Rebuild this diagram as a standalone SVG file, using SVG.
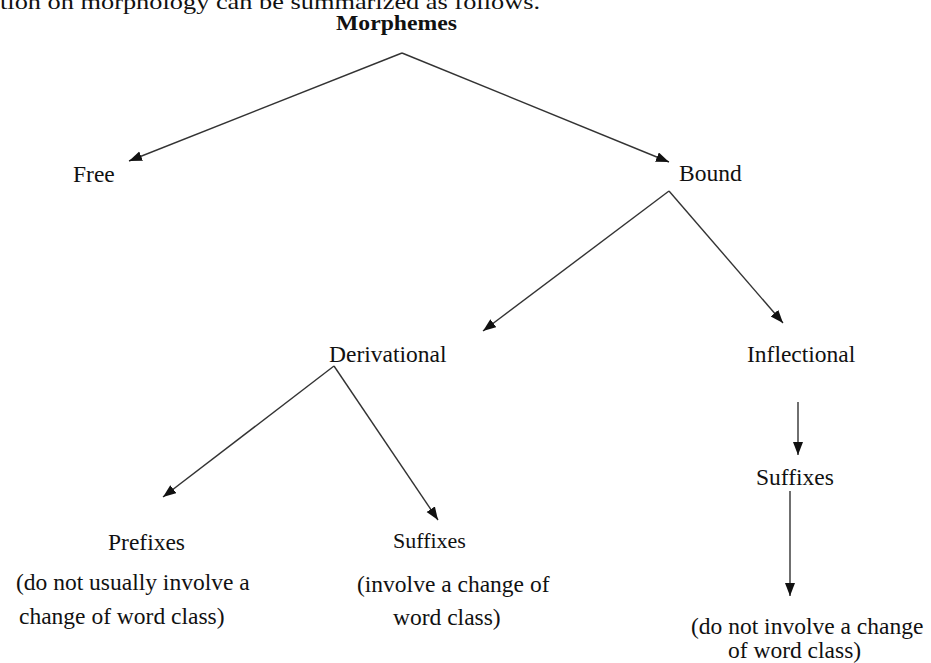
<svg xmlns="http://www.w3.org/2000/svg" width="931" height="663" viewBox="0 0 931 663">
<style>
text{font-family:"Liberation Serif","Times New Roman",serif;font-size:23.5px;fill:#111}
.b{font-weight:bold}
.c line{stroke:#333;stroke-width:1.4;fill:none}
</style>
<defs>
<marker id="ah" markerUnits="userSpaceOnUse" markerWidth="14" markerHeight="12" refX="13" refY="5" orient="auto">
<path d="M0,0 L13,5 L0,10 Z" fill="#111"/>
</marker>
</defs>
<rect width="931" height="663" fill="#fff"/>
<text x="0" y="9" style="font-size:22px" textLength="540" lengthAdjust="spacingAndGlyphs">tion on morphology can be summarized as follows.</text>
<g id="morphemes"><text class="b" x="336" y="30" style="font-size:22px" textLength="121" lengthAdjust="spacingAndGlyphs">Morphemes</text></g>
<g id="free"><text x="73" y="182">Free</text></g>
<g id="bound"><text x="679" y="181">Bound</text></g>
<g id="derivational"><text x="329" y="362">Derivational</text></g>
<g id="inflectional"><text x="747" y="362">Inflectional</text></g>
<g id="prefixes"><text x="108" y="550">Prefixes</text><text x="16" y="590">(do not usually involve a</text><text x="19" y="624">change of word class)</text></g>
<g id="suffixes-der"><text x="393" y="548" style="font-size:22px">Suffixes</text><text x="357" y="592">(involve a change of</text><text x="393" y="625">word class)</text></g>
<g id="suffixes-inf"><text x="756" y="485">Suffixes</text><text x="691" y="634">(do not involve a change</text><text x="728" y="658">of word class)</text></g>
<g class="c" id="connectors">
<line x1="402" y1="53" x2="129" y2="161" marker-end="url(#ah)"/>
<line x1="402" y1="53" x2="669" y2="162" marker-end="url(#ah)"/>
<line x1="669" y1="191" x2="483" y2="331" marker-end="url(#ah)"/>
<line x1="669" y1="191" x2="783" y2="323" marker-end="url(#ah)"/>
<line x1="334" y1="366" x2="163" y2="497" marker-end="url(#ah)"/>
<line x1="334" y1="366" x2="438" y2="520" marker-end="url(#ah)"/>
<line x1="798" y1="402" x2="798" y2="455" marker-end="url(#ah)"/>
<line x1="790" y1="491" x2="790" y2="596" marker-end="url(#ah)"/>
</g>
</svg>
